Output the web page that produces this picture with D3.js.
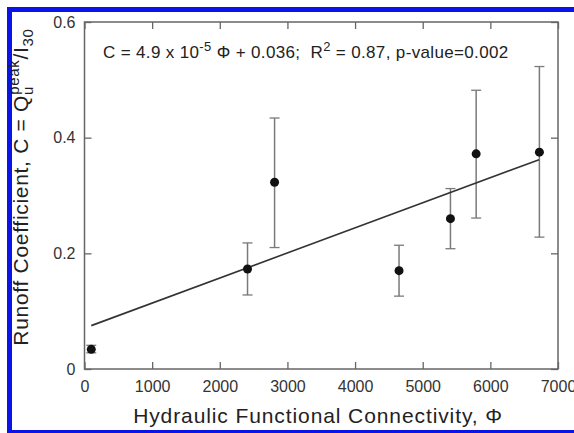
<!DOCTYPE html>
<html>
<head>
<meta charset="utf-8">
<script src="https://cdn.jsdelivr.net/npm/d3@7"></script>
<style>
  body { margin: 0; background: #fff; }
  svg { display: block; font-family: "Liberation Sans", Arial, Helvetica, sans-serif; }
</style>
</head>
<body>
<div id="chart"></div>
<script>
// values
const phi     = [100, 2410, 2810, 4650, 5410, 5790, 6725];
const runoff  = [0.034, 0.173, 0.323, 0.170, 0.260, 0.372, 0.375];
const errLow  = [0.028, 0.128, 0.210, 0.126, 0.208, 0.261, 0.228];
const errHigh = [0.041, 0.218, 0.434, 0.214, 0.312, 0.482, 0.523];

// fitted line as drawn
const fitX = [100, 6720];
const fitY = [0.075, 0.362];

const xTicks = [0, 1000, 2000, 3000, 4000, 5000, 6000, 7000];
const yTicks = [0, 0.2, 0.4, 0.6];

const W = 574, H = 433;
const margin = { top: 22, right: 16, bottom: 64, left: 84.5 };
const width = 558 - margin.left;
const height = 369 - margin.top;

const svg = d3.select("#chart").append("svg")
  .attr("width", W)
  .attr("height", H);

// blue frame round the figure (right side is cropped off)
svg.append("rect").attr("x", 7).attr("y", 7).attr("width", W - 7).attr("height", 5).attr("fill", "#0a14e6");
svg.append("rect").attr("x", 7).attr("y", 7).attr("width", 5).attr("height", H - 7).attr("fill", "#0a14e6");
svg.append("rect").attr("x", 7).attr("y", 430).attr("width", W - 7).attr("height", 3).attr("fill", "#0a14e6");

const g = svg.append("g")
  .attr("transform", "translate(" + margin.left + "," + margin.top + ")");

const x = d3.scaleLinear().domain([0, 7000]).range([0, width]);
const y = d3.scaleLinear().domain([0, 0.6]).range([height, 0]);

const axisColor = "#666";
const tickLen = 7;

// frame
g.append("rect")
  .attr("width", width)
  .attr("height", height)
  .attr("fill", "none")
  .attr("stroke", axisColor)
  .attr("stroke-width", 1.5);

// axes, ticks pointing inward
const xAxis = g.append("g")
  .attr("transform", "translate(0," + height + ")")
  .call(d3.axisBottom(x).tickValues(xTicks).tickSize(-tickLen).tickPadding(12).tickFormat(d3.format("d")));
const xTop = g.append("g")
  .call(d3.axisTop(x).tickValues(xTicks).tickSize(-tickLen).tickFormat(""));
const yAxis = g.append("g")
  .call(d3.axisLeft(y).tickValues(yTicks).tickSize(-tickLen).tickPadding(9).tickFormat(d => d === 0 ? "0" : d3.format(".1f")(d)));
const yRight = g.append("g")
  .attr("transform", "translate(" + width + ",0)")
  .call(d3.axisRight(y).tickValues(yTicks).tickSize(-tickLen).tickFormat(""));

[xAxis, xTop, yAxis, yRight].forEach(a => {
  a.select(".domain").remove();
  a.selectAll(".tick line").attr("stroke", axisColor).attr("stroke-width", 1.3);
  a.selectAll(".tick text").attr("fill", "#333").attr("font-size", 16).attr("font-family", null);
});

// error bars
const bars = phi.map((p, i) => ({ x: p, y: runoff[i], lo: errLow[i], hi: errHigh[i] }));
const errColor = "#7a7a7a";
const cap = 5;

g.selectAll(".err").data(bars).enter().append("line")
  .attr("class", "err")
  .attr("x1", d => x(d.x)).attr("x2", d => x(d.x))
  .attr("y1", d => y(d.lo)).attr("y2", d => y(d.hi))
  .attr("stroke", errColor).attr("stroke-width", 1.5);

g.selectAll(".capTop").data(bars).enter().append("line")
  .attr("class", "capTop")
  .attr("x1", d => x(d.x) - cap).attr("x2", d => x(d.x) + cap)
  .attr("y1", d => y(d.hi)).attr("y2", d => y(d.hi))
  .attr("stroke", errColor).attr("stroke-width", 1.3);

g.selectAll(".capBot").data(bars).enter().append("line")
  .attr("class", "capBot")
  .attr("x1", d => x(d.x) - cap).attr("x2", d => x(d.x) + cap)
  .attr("y1", d => y(d.lo)).attr("y2", d => y(d.lo))
  .attr("stroke", errColor).attr("stroke-width", 1.3);

// regression line
const fit = fitX.map((v, i) => [v, fitY[i]]);
g.append("path")
  .datum(fit)
  .attr("fill", "none")
  .attr("stroke", "#333")
  .attr("stroke-width", 1.6)
  .attr("d", d3.line().x(d => x(d[0])).y(d => y(d[1])));

// points
g.selectAll(".pt").data(bars).enter().append("circle")
  .attr("class", "pt")
  .attr("cx", d => x(d.x))
  .attr("cy", d => y(d.y))
  .attr("r", 4.5)
  .attr("fill", "#111");

// equation
const eq = svg.append("text")
  .attr("x", 103)
  .attr("y", 58)
  .attr("font-size", 17)
  .attr("letter-spacing", 0.35)
  .attr("fill", "#222")
  .style("white-space", "pre");
eq.append("tspan").text("C = 4.9 x 10");
eq.append("tspan").attr("dy", -7).attr("font-size", 13).text("-5");
eq.append("tspan").attr("dy", 7).text(" \u03A6 + 0.036;\u00A0\u00A0R");
eq.append("tspan").attr("dy", -7).attr("font-size", 13).text("2");
eq.append("tspan").attr("dy", 7).text(" = 0.87, p-value=0.002");

// x title
svg.append("text")
  .attr("x", 318)
  .attr("y", 423)
  .attr("text-anchor", "middle")
  .attr("font-size", 21)
  .attr("letter-spacing", 0.9)
  .attr("fill", "#222")
  .text("Hydraulic Functional Connectivity, \u03A6");

// y title
const yt = svg.append("text")
  .attr("transform", "translate(28," + 187 + ") rotate(-90)")
  .attr("text-anchor", "middle")
  .attr("font-size", 21)
  .attr("letter-spacing", 0.7)
  .attr("fill", "#222");
yt.append("tspan").text("Runoff Coefficient, C = Q");
yt.append("tspan").attr("dy", 5).attr("font-size", 15).text("u");
yt.append("tspan").attr("dx", -9).attr("dy", -14).attr("font-size", 15).text("peak");
yt.append("tspan").attr("dy", 9).text("/I");
yt.append("tspan").attr("dy", 5).attr("font-size", 15).text("30");
</script>
</body>
</html>
